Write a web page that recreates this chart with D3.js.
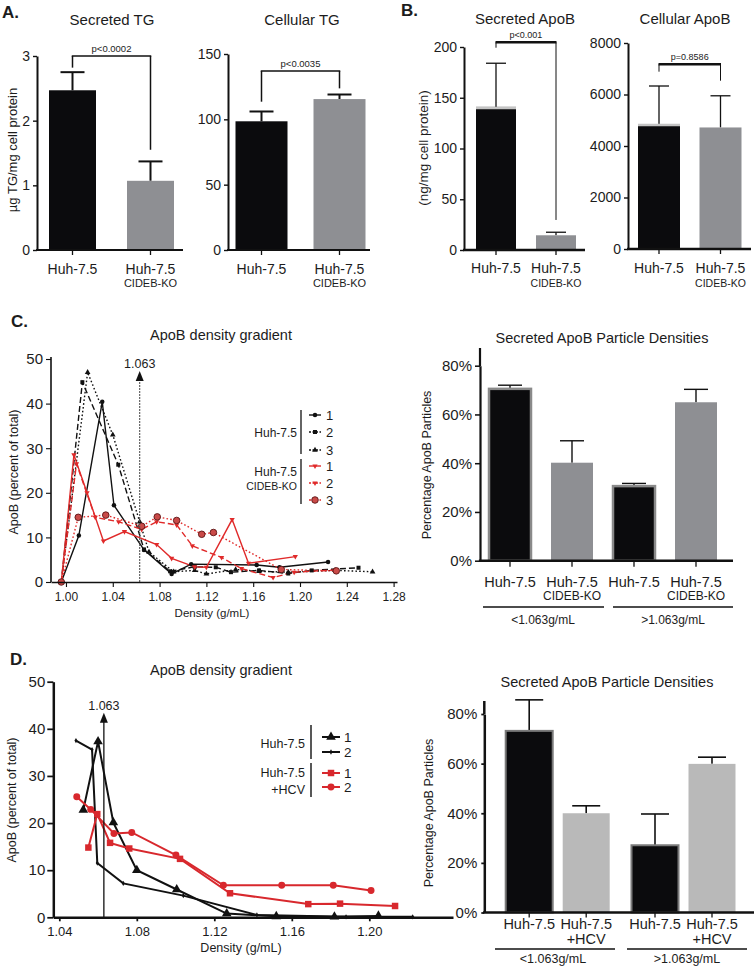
<!DOCTYPE html>
<html>
<head>
<meta charset="utf-8">
<script src="https://cdn.jsdelivr.net/npm/d3@7/dist/d3.min.js"></script>
<style>
html,body{margin:0;padding:0;background:#fff;}
svg{display:block;}
</style>
</head>
<body>
<svg id="chart" width="754" height="967"></svg>
<script>
// ================= DATA =================
const cellLinesKO = [["Huh-7.5"], ["Huh-7.5", "CIDEB-KO"]];
const secretedTG = [2.47, 1.07];
const secretedTGErr = [0.28, 0.30];
const cellularTG = [98.5, 115.5];
const cellularTGErr = [7.5, 3.5];
const secretedApoB = [141, 14.5];
const secretedApoBErr = [43, 3];
const cellularApoB = [4850, 4720];
const cellularApoBErr = [1480, 1230];
const pValues = ["p<0.0002", "p<0.0035", "p<0.001", "p=0.8586"];
const tgSecTicks = [0, 1, 2, 3];
const tgCellTicks = [0, 50, 100, 150];
const apoSecTicks = [0, 50, 100, 150, 200];
const apoCellTicks = [0, 2000, 4000, 6000, 8000];

const densityGroups = ["<1.063g/mL", ">1.063g/mL"];
const cBarLabels = [["Huh-7.5"], ["Huh-7.5", "CIDEB-KO"], ["Huh-7.5"], ["Huh-7.5", "CIDEB-KO"]];
const cBarValues = [70.5, 40.2, 30.6, 65.0];
const cBarErr = [1.5, 9.0, 1.1, 5.3];
const dBarLabels = [["Huh-7.5"], ["Huh-7.5", "+HCV"], ["Huh-7.5"], ["Huh-7.5", "+HCV"]];
const dBarValues = [73.2, 40.0, 27.1, 59.9];
const dBarErr = [12.5, 3.0, 12.6, 2.7];
const pctTicks = [0, 20, 40, 60, 80];

const cutoffDensity = 1.063;
const apoTicks = [0, 10, 20, 30, 40, 50];
const cDensityTicks = [1.00, 1.04, 1.08, 1.12, 1.16, 1.20, 1.24, 1.28];
const dDensityTicks = [1.04, 1.08, 1.12, 1.16, 1.20];

// C: ApoB density gradient [density g/mL, % of total]
const cHuh1 = [[0.996,0],[1.011,10.4],[1.031,40.4],[1.041,17.2],[1.0667,7.2],[1.0903,1.8],[1.107,4.0],[1.163,3.8],[1.1825,3.3],[1.224,4.5]];
const cHuh2 = [[0.996,0],[1.014,44.8],[1.0447,26.3],[1.0667,7.3],[1.089,2.4],[1.11,3.4],[1.128,3.3],[1.141,2.2],[1.165,2.6],[1.19,1.9],[1.21,2.6],[1.25,3.2]];
const cHuh3 = [[0.996,0],[1.0185,47.0],[1.04,33.0],[1.063,13.5],[1.071,6.7],[1.092,2.3],[1.11,2.6],[1.12,1.8],[1.145,2.8],[1.165,2.4],[1.19,2.2],[1.23,2.6],[1.262,2.3]];
const cKO1 = [[0.996,0],[1.0068,28.5],[1.018,20.0],[1.032,9.2],[1.05,11.3],[1.0775,8.4],[1.0903,5.3],[1.11,3.4],[1.12,3.3],[1.142,14.0],[1.156,4.2],[1.196,5.7]];
const cKO2 = [[0.996,0],[1.009,26.5],[1.025,14.5],[1.045,13.5],[1.0647,11.8],[1.0775,13.5],[1.0946,12.8],[1.108,8.1],[1.133,5.5],[1.15,3.0],[1.177,1.0],[1.195,2.2],[1.231,2.7]];
const cKO3 = [[0.996,0],[1.0105,14.5],[1.034,15.0],[1.0647,12.5],[1.078,14.6],[1.0946,13.8],[1.116,10.7],[1.126,11.1],[1.184,2.8],[1.231,2.5]];

// D: ApoB density gradient
const dHuh1 = [[1.0524,22.8],[1.060,37.3],[1.0679,20.1],[1.080,10.0],[1.1006,5.9],[1.1264,0.8],[1.152,0.2],[1.182,0.1],[1.2047,0.3]];
const dHuh2 = [[1.0486,37.5],[1.0569,35.6],[1.0596,11.5],[1.073,7.2],[1.104,4.6],[1.142,0.5],[1.188,0.1],[1.2224,0.1]];
const dHCV1 = [[1.055,14.8],[1.0596,21.9],[1.0662,15.8],[1.0761,14.6],[1.1023,12.4],[1.1281,5.1],[1.1685,2.8],[1.1849,2.9],[1.2133,2.4]];
const dHCV2 = [[1.049,25.6],[1.0562,22.9],[1.0682,17.8],[1.0774,18.0],[1.1002,13.2],[1.1247,6.8],[1.1548,6.8],[1.1814,6.8],[1.2009,5.7]];

// ================= DRAWING =================
const FONT = '"Liberation Sans", Arial, Helvetica, sans-serif';
const INK = "#1c1c1c";
const svg = d3.select("#chart").attr("font-family", FONT);

function txt(g, x, y, s, size, anchor = "middle", weight = "normal", fill = INK) {
  return g.append("text").attr("x", x).attr("y", y).attr("font-size", size)
    .attr("text-anchor", anchor).attr("font-weight", weight).attr("fill", fill).text(s);
}
function vtxt(g, x, y, s, size) {
  return g.append("text").attr("transform", `translate(${x},${y}) rotate(-90)`)
    .attr("text-anchor", "middle").attr("dominant-baseline", "central")
    .attr("font-size", size).attr("fill", INK).text(s);
}

function barPanel(o) {
  const g = svg.append("g");
  const y = d3.scaleLinear().domain([0, o.ymax]).range([o.yBottom, o.yTop]);
  const gx = d3.scalePoint().domain(d3.range(o.groupCenters.length)).range(o.groupCenters);
  const per = o.per || 1;
  const cx = i => gx(Math.floor(i / per)) + (per === 1 ? 0 : (i % per === 0 ? -o.off : o.off));
  const data = o.values.map((v, i) => ({ i, v, e: o.errs[i] }));

  g.selectAll("line.err").data(data).join("line").attr("class", "err")
    .attr("x1", d => cx(d.i)).attr("x2", d => cx(d.i))
    .attr("y1", d => y(d.v)).attr("y2", d => y(d.v + d.e))
    .attr("stroke", "#111").attr("stroke-width", o.ew);
  g.selectAll("line.cap").data(data).join("line").attr("class", "cap")
    .attr("x1", d => cx(d.i) - o.cap / 2).attr("x2", d => cx(d.i) + o.cap / 2)
    .attr("y1", d => y(d.v + d.e)).attr("y2", d => y(d.v + d.e))
    .attr("stroke", "#111").attr("stroke-width", o.ew);

  g.selectAll("rect.bar").data(data).join("rect").attr("class", "bar")
    .attr("x", d => cx(d.i) - o.bw / 2).attr("width", o.bw)
    .attr("y", d => y(d.v)).attr("height", d => y(0) - y(d.v))
    .attr("fill", d => o.fills[d.i])
    .attr("stroke", d => o.strokes ? o.strokes[d.i] : "none")
    .attr("stroke-width", o.sw || 0);

  if (o.topCaps) {
    g.selectAll("line.tc").data(data.filter(d => o.topCaps[d.i])).join("line").attr("class", "tc")
      .attr("x1", d => cx(d.i) - o.bw / 2).attr("x2", d => cx(d.i) + o.bw / 2)
      .attr("y1", d => y(d.v) + 1).attr("y2", d => y(d.v) + 1)
      .attr("stroke", d => o.topCaps[d.i]).attr("stroke-width", 2.5);
  }

  const ax = g.append("g").attr("transform", `translate(${o.axisX},0)`)
    .call(d3.axisLeft(y).tickValues(o.ticks).tickSize(o.tl).tickSizeOuter(0)
      .tickPadding(o.tp || 3).tickFormat(o.fmt || (d => d)));
  ax.attr("font-family", FONT).attr("font-size", o.tfs);
  ax.select(".domain").attr("stroke", "#111").attr("stroke-width", o.aw);
  ax.selectAll(".tick line").attr("stroke", "#111").attr("stroke-width", o.aw * 0.7);
  ax.selectAll(".tick text").attr("fill", INK);

  g.append("line").attr("x1", o.axisX - o.aw / 2).attr("x2", o.axisEnd)
    .attr("y1", y(0)).attr("y2", y(0)).attr("stroke", "#111").attr("stroke-width", o.xw);
  g.selectAll("line.xt").data(data).join("line").attr("class", "xt")
    .attr("x1", d => cx(d.i)).attr("x2", d => cx(d.i))
    .attr("y1", y(0)).attr("y2", y(0) + o.xtl)
    .attr("stroke", "#111").attr("stroke-width", 1.3);

  data.forEach(d => {
    o.labels[d.i].forEach((s, k) => txt(g, cx(d.i), o.labY[k], s, o.labFs[k]));
  });

  if (o.title) txt(g, o.title[1], o.title[2], o.title[0], o.titleFs);
  if (o.ylabel) vtxt(g, o.ylabel[1], o.ylabel[2], o.ylabel[0], o.ylabelFs);

  if (o.bracket) {
    const b = o.bracket;
    const x0 = cx(0), x1 = cx(1);
    g.append("line").attr("x1", x0).attr("x2", x0).attr("y1", y(b.left)).attr("y2", y(b.top))
      .attr("stroke", "#111").attr("stroke-width", b.legW);
    g.append("line").attr("x1", x1).attr("x2", x1).attr("y1", y(b.right)).attr("y2", y(b.top))
      .attr("stroke", "#111").attr("stroke-width", b.legW);
    g.append("line").attr("x1", x0 - b.legW / 2).attr("x2", x1 + b.legW / 2).attr("y1", y(b.top)).attr("y2", y(b.top))
      .attr("stroke", "#111").attr("stroke-width", b.topW);
    txt(g, (x0 + x1) / 2, y(b.top) - b.dy, b.text, b.fs);
  }

  if (o.groups) {
    o.groups.forEach((grp, j) => {
      g.append("line").attr("x1", grp.x1).attr("x2", grp.x2).attr("y1", o.groupLineY).attr("y2", o.groupLineY)
        .attr("stroke", "#111").attr("stroke-width", 1.5);
      txt(g, grp.tx, o.groupLabelY, densityGroups[j], o.groupFs);
    });
  }
  return g;
}

const BLACK = "#0b0b0d";
const GRAY = "#8e8f93";
const LGRAY = "#b9b9b9";

// ---------- Panel letters
txt(svg, 2, 18, "A.", 17, "start", "bold");
txt(svg, 401, 16, "B.", 17, "start", "bold");
txt(svg, 11, 327, "C.", 17, "start", "bold");
txt(svg, 10, 665, "D.", 17, "start", "bold");

// ---------- A: Secreted TG
barPanel({
  ymax: 3, yBottom: 250, yTop: 56, axisX: 37, axisEnd: 183,
  groupCenters: [72.5, 150.5], bw: 47, values: secretedTG, errs: secretedTGErr,
  fills: [BLACK, GRAY], ew: 2, cap: 24, ticks: tgSecTicks, tl: 4, tp: 3, tfs: 14, aw: 2, xw: 2, xtl: 5,
  labels: cellLinesKO, labY: [274, 287], labFs: [14, 11],
  title: ["Secreted TG", 112, 25], titleFs: 15,
  ylabel: ["\u00b5g TG/mg cell protein", 12, 150], ylabelFs: 13,
  bracket: { left: 2.82, top: 3.0, right: 1.55, text: pValues[0], dy: 4, fs: 9.5, legW: 1.5, topW: 1.5 }
});
// ---------- A: Cellular TG
barPanel({
  ymax: 150, yBottom: 250, yTop: 54, axisX: 228, axisEnd: 370,
  groupCenters: [261.5, 339.5], bw: 52, values: cellularTG, errs: cellularTGErr,
  fills: [BLACK, GRAY], ew: 2, cap: 24, ticks: tgCellTicks, tl: 4, tp: 3, tfs: 14, aw: 2, xw: 2, xtl: 5,
  labels: cellLinesKO, labY: [274, 287], labFs: [14, 11],
  title: ["Cellular TG", 302, 25], titleFs: 15,
  bracket: { left: 113.5, top: 137, right: 123.7, text: pValues[1], dy: 4, fs: 9.5, legW: 1.5, topW: 1.5 }
});
// ---------- B: Secreted ApoB
barPanel({
  ymax: 200, yBottom: 250, yTop: 47, axisX: 464, axisEnd: 585,
  groupCenters: [496, 556], bw: 40, values: secretedApoB, errs: secretedApoBErr,
  fills: [BLACK, GRAY], topCaps: ["#c4c4c4", null], ew: 1.3, cap: 20, ticks: apoSecTicks, tl: 4, tp: 3, tfs: 14, aw: 2, xw: 2.5, xtl: 5,
  labels: cellLinesKO, labY: [273, 287], labFs: [14, 10.5],
  title: ["Secreted ApoB", 525, 24], titleFs: 15,
  ylabel: ["(ng/mg cell protein)", 423, 148], ylabelFs: 13.5,
  bracket: { left: 199.3, top: 204.6, right: 29.6, text: pValues[2], dy: 4, fs: 9, legW: 1, topW: 2.5 }
});
// ---------- B: Cellular ApoB
barPanel({
  ymax: 8000, yBottom: 249, yTop: 43, axisX: 628, axisEnd: 751,
  groupCenters: [659, 720.5], bw: 42, values: cellularApoB, errs: cellularApoBErr,
  fills: [BLACK, GRAY], topCaps: ["#c4c4c4", null], ew: 1.3, cap: 20, ticks: apoCellTicks, tl: 4, tp: 3, tfs: 14, aw: 2, xw: 2.5, xtl: 5,
  labels: cellLinesKO, labY: [273, 287], labFs: [14, 10.5],
  title: ["Cellular ApoB", 685, 24], titleFs: 15,
  bracket: { left: 6886, top: 7173, right: 6536, text: pValues[3], dy: 4, fs: 9, legW: 1, topW: 2.5 }
});

// ---------- C: bars
barPanel({
  ymax: 80, yBottom: 560.7, yTop: 365.7, axisX: 480, axisEnd: 733,
  groupCenters: [541, 665], per: 2, off: 31, bw: 42, values: cBarValues, errs: cBarErr,
  fills: [BLACK, GRAY, BLACK, GRAY], strokes: ["#8a8a8a", "none", "#8a8a8a", "none"], sw: 2.5,
  ew: 1.4, cap: 24, ticks: pctTicks, tl: 5, tp: 3, tfs: 15, aw: 2.2, xw: 2.5, xtl: 6,
  fmt: d => d + "%",
  labels: cBarLabels, labY: [587, 600], labFs: [14.5, 12],
  title: ["Secreted ApoB Particle Densities", 602, 343], titleFs: 14.5,
  ylabel: ["Percentage ApoB Particles", 427, 465], ylabelFs: 12.5,
  groups: [{ x1: 483, x2: 604, tx: 543 }, { x1: 613, x2: 733, tx: 673 }],
  groupLineY: 607, groupLabelY: 624, groupFs: 12
});
// extend C bar y axis above 80%
svg.append("line").attr("x1", 480).attr("x2", 480).attr("y1", 366).attr("y2", 348).attr("stroke", "#111").attr("stroke-width", 2.2);

// ---------- D: bars
barPanel({
  ymax: 80, yBottom: 912.5, yTop: 714, axisX: 484.3, axisEnd: 754,
  groupCenters: [557.7, 683.5], per: 2, off: 28.5, bw: 47, values: dBarValues, errs: dBarErr,
  fills: [BLACK, LGRAY, BLACK, LGRAY], strokes: ["#7a7a7a", "none", "#7a7a7a", "none"], sw: 2,
  ew: 1.6, cap: 28, ticks: pctTicks, tl: 3, tp: 4, tfs: 15, aw: 2.5, xw: 2.5, xtl: 5,
  fmt: d => d + "%",
  labels: dBarLabels, labY: [929, 944], labFs: [14.5, 14.5],
  title: ["Secreted ApoB Particle Densities", 607, 687], titleFs: 14.5,
  ylabel: ["Percentage ApoB Particles", 429, 813], ylabelFs: 12.5,
  groups: [{ x1: 495, x2: 615, tx: 553 }, { x1: 627, x2: 747, tx: 687 }],
  groupLineY: 949, groupLabelY: 963, groupFs: 12.5
});
svg.append("line").attr("x1", 484.3).attr("x2", 484.3).attr("y1", 714).attr("y2", 701).attr("stroke", "#111").attr("stroke-width", 2.5);

// ---------- Line chart helper
function arrow(g, x, yBase, yTip, color, dash, w) {
  g.append("line").attr("x1", x).attr("x2", x).attr("y1", yBase).attr("y2", yTip + 8)
    .attr("stroke", color).attr("stroke-width", w).attr("stroke-dasharray", dash);
  g.append("path").attr("d", `M${x},${yTip} L${x - 4},${yTip + 10} L${x + 4},${yTip + 10} Z`).attr("fill", "#111");
  txt(g, x, yTip - 3, "1.063", 12.5);
}

function styleAxis(ax, fs, w) {
  ax.attr("font-family", FONT).attr("font-size", fs);
  ax.select(".domain").attr("stroke", "#111").attr("stroke-width", w);
  ax.selectAll(".tick line").attr("stroke", "#111").attr("stroke-width", Math.max(1, w * 0.7));
  ax.selectAll(".tick text").attr("fill", INK);
}

// ---------- C: line chart
{
  const g = svg.append("g");
  const x = d3.scaleLinear().domain([0.9872, 1.2829]).range([51, 397]);
  const y = d3.scaleLinear().domain([0, 50]).range([582, 359]);
  const line = d3.line().x(d => x(d[0])).y(d => y(d[1]));
  const RED = "#e02a2a";
  const series = [
    { data: cHuh1, color: "#111", dash: null, sym: d3.symbolCircle, size: 16, fill: "#111", stroke: "none" },
    { data: cHuh2, color: "#111", dash: "6,3", sym: d3.symbolSquare, size: 16, fill: "#111", stroke: "none" },
    { data: cHuh3, color: "#111", dash: "1.6,2.2", sym: d3.symbolTriangle, size: 14, fill: "#111", stroke: "none" },
    { data: cKO1, color: RED, dash: null, sym: d3.symbolTriangle, size: 12, fill: RED, stroke: "none", rot: 180 },
    { data: cKO2, color: RED, dash: "6,3", sym: d3.symbolTriangle, size: 12, fill: RED, stroke: "none", rot: 180 },
    { data: cKO3, color: RED, dash: "1.6,2.2", sym: d3.symbolCircle, size: 34, fill: "#c94a48", stroke: "#5b1414" }
  ];
  series.forEach(s => {
    g.append("path").datum(s.data).attr("d", line).attr("fill", "none")
      .attr("stroke", s.color).attr("stroke-width", 1.4).attr("stroke-dasharray", s.dash);
  });
  series.forEach(s => {
    g.selectAll(null).data(s.data).join("path")
      .attr("transform", d => `translate(${x(d[0])},${y(d[1])}) rotate(${s.rot || 0})`)
      .attr("d", d3.symbol().type(s.sym).size(s.size))
      .attr("fill", s.fill).attr("stroke", s.stroke).attr("stroke-width", 0.9);
  });
  arrow(g, x(cutoffDensity), y(0), y(47.3), "#555", "2,1", 1.1);

  const ax = g.append("g").attr("transform", `translate(0,${y(0)})`)
    .call(d3.axisBottom(x).tickValues(cDensityTicks).tickFormat(d3.format(".2f")).tickSize(5).tickSizeOuter(0).tickPadding(5));
  styleAxis(ax, 12, 1.6);
  const ay = g.append("g").attr("transform", `translate(${x.range()[0]},0)`)
    .call(d3.axisLeft(y).tickValues(apoTicks).tickSize(5).tickSizeOuter(0).tickPadding(3));
  styleAxis(ay, 15, 1.6);
  ay.select(".domain").attr("d", `M0,${y(0)}V${y(50) - 2}`);

  txt(g, 221, 340, "ApoB density gradient", 14.5);
  vtxt(g, 14, 472, "ApoB (percent of total)", 12.5);
  txt(g, 212, 617, "Density (g/mL)", 11.5);

  // legend
  const lg = g.append("g");
  lg.append("line").attr("x1", 301).attr("x2", 301).attr("y1", 410).attr("y2", 454).attr("stroke", "#111").attr("stroke-width", 1.3);
  lg.append("line").attr("x1", 301).attr("x2", 301).attr("y1", 459).attr("y2", 504).attr("stroke", "#111").attr("stroke-width", 1.3);
  txt(lg, 297, 437, "Huh-7.5", 12, "end");
  txt(lg, 297, 476, "Huh-7.5", 12, "end");
  txt(lg, 297, 490, "CIDEB-KO", 10.5, "end");
  const ly = [415, 432, 450, 466, 483, 500];
  const names = ["1", "2", "3", "1", "2", "3"];
  series.forEach((s, i) => {
    lg.append("line").attr("x1", 309).attr("x2", 321).attr("y1", ly[i]).attr("y2", ly[i])
      .attr("stroke", s.color).attr("stroke-width", 1.4).attr("stroke-dasharray", s.dash ? "2,1.5" : null);
    lg.append("path").attr("transform", `translate(315,${ly[i]}) rotate(${s.rot || 0})`)
      .attr("d", d3.symbol().type(s.sym).size(s.size)).attr("fill", s.fill).attr("stroke", s.stroke).attr("stroke-width", 0.9);
    txt(lg, 326, ly[i] + 5, names[i], 13, "start");
  });
}

// ---------- D: line chart
{
  const g = svg.append("g");
  const x = d3.scaleLinear().domain([1.0369, 1.2432]).range([53.3, 453]);
  const y = d3.scaleLinear().domain([0, 50]).range([917.3, 681.7]);
  const line = d3.line().x(d => x(d[0])).y(d => y(d[1]));
  const RED = "#d8282d";
  const series = [
    { data: dHuh1, color: "#111", sym: d3.symbolTriangle, size: 40, fill: "#111" },
    { data: dHuh2, color: "#111", sym: d3.symbolDiamond, size: 8, fill: "#111" },
    { data: dHCV1, color: RED, sym: d3.symbolSquare, size: 42, fill: RED },
    { data: dHCV2, color: RED, sym: d3.symbolCircle, size: 38, fill: RED }
  ];
  series.forEach(s => {
    g.append("path").datum(s.data).attr("d", line).attr("fill", "none")
      .attr("stroke", s.color).attr("stroke-width", 2);
  });
  series.forEach(s => {
    g.selectAll(null).data(s.data).join("path")
      .attr("transform", d => `translate(${x(d[0])},${y(d[1])})`)
      .attr("d", d3.symbol().type(s.sym).size(s.size)).attr("fill", s.fill);
  });
  arrow(g, x(cutoffDensity), y(0), y(43.4), "#111", null, 1.3);

  const ax = g.append("g").attr("transform", `translate(0,${y(0)})`)
    .call(d3.axisBottom(x).tickValues(dDensityTicks).tickFormat(d3.format(".2f")).tickSize(4).tickSizeOuter(0).tickPadding(5));
  styleAxis(ax, 13, 2.5);
  const ay = g.append("g").attr("transform", `translate(${x.range()[0]},0)`)
    .call(d3.axisLeft(y).tickValues(apoTicks).tickSize(6).tickSizeOuter(0).tickPadding(2));
  styleAxis(ay, 15, 2.5);

  txt(g, 221, 675, "ApoB density gradient", 14.5);
  vtxt(g, 12, 800, "ApoB (percent of total)", 12.5);
  txt(g, 241, 952, "Density (g/mL)", 12.5);

  const lg = g.append("g");
  lg.append("line").attr("x1", 311).attr("x2", 311).attr("y1", 725).attr("y2", 759).attr("stroke", "#111").attr("stroke-width", 1.4);
  lg.append("line").attr("x1", 311).attr("x2", 311).attr("y1", 763).attr("y2", 797).attr("stroke", "#111").attr("stroke-width", 1.4);
  txt(lg, 305, 748, "Huh-7.5", 12.5, "end");
  txt(lg, 305, 777, "Huh-7.5", 12.5, "end");
  txt(lg, 305, 794, "+HCV", 12.5, "end");
  const ly = [737, 752, 773, 787];
  const names = ["1", "2", "1", "2"];
  series.forEach((s, i) => {
    lg.append("line").attr("x1", 322).attr("x2", 340).attr("y1", ly[i]).attr("y2", ly[i])
      .attr("stroke", s.color).attr("stroke-width", 2);
    lg.append("path").attr("transform", `translate(331,${ly[i]})`)
      .attr("d", d3.symbol().type(s.sym).size(s.size)).attr("fill", s.fill);
    txt(lg, 344, ly[i] + 5, names[i], 13.5, "start");
  });
}
</script>
</body>
</html>
